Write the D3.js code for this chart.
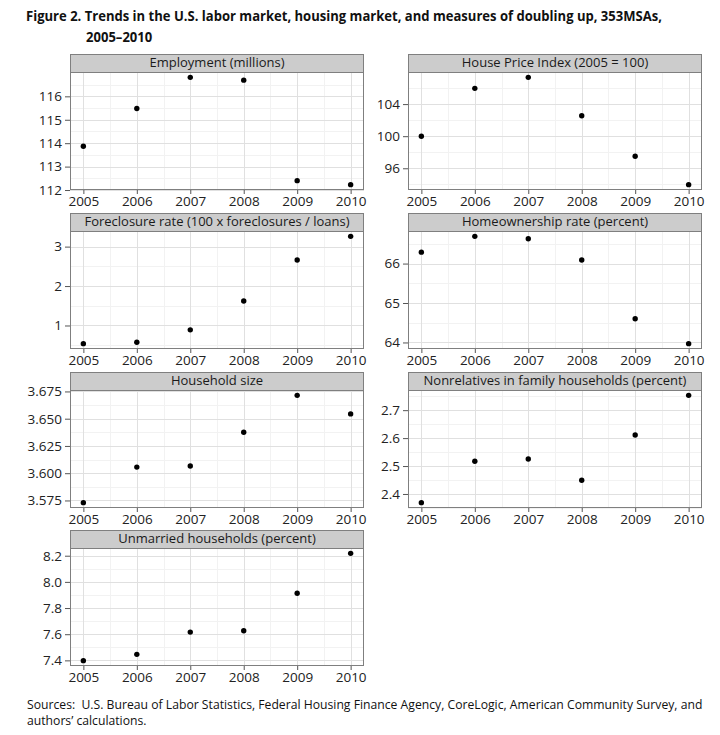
<!DOCTYPE html>
<html>
<head>
<meta charset="utf-8">
<script src="https://cdn.jsdelivr.net/npm/d3@7"></script>
<style>
  html, body { margin: 0; padding: 0; background: #fff; }
  svg { display: block; }
</style>
</head>
<body>
<script>
// ---------------- data ----------------
const years = [2005, 2006, 2007, 2008, 2009, 2010];

const employment     = [113.87, 115.48, 116.81, 116.69, 112.40, 112.23];
const housePrice     = [100.0, 105.96, 107.33, 102.54, 97.5, 93.96];
const foreclosure    = [0.54, 0.575, 0.89, 1.62, 2.66, 3.26];
const homeownership  = [66.29, 66.69, 66.63, 66.09, 64.60, 63.97];
const householdSize  = [3.573, 3.6056, 3.6066, 3.6375, 3.6714, 3.6544];
const nonrelatives   = [2.369, 2.517, 2.525, 2.449, 2.611, 2.753];
const unmarried      = [7.398, 7.446, 7.616, 7.626, 7.913, 8.218];

const employmentTicks    = [112, 113, 114, 115, 116];
const housePriceTicks    = [96, 100, 104];
const foreclosureTicks   = [1, 2, 3];
const homeownershipTicks = [64, 65, 66];
const householdSizeTicks = [3.575, 3.600, 3.625, 3.650, 3.675];
const nonrelativesTicks  = [2.4, 2.5, 2.6, 2.7];
const unmarriedTicks     = [7.4, 7.6, 7.8, 8.0, 8.2];

const panelTitles = [
  "Employment (millions)",
  "House Price Index (2005 = 100)",
  "Foreclosure rate (100 x foreclosures / loans)",
  "Homeownership rate (percent)",
  "Household size",
  "Nonrelatives in family households (percent)",
  "Unmarried households (percent)"
];

const titleLines = [
  "Figure 2. Trends in the U.S. labor market, housing market, and measures of doubling up, 353MSAs,",
  "2005\u20132010"
];
const sourceLines = [
  "Sources:\u00a0 U.S. Bureau of Labor Statistics, Federal Housing Finance Agency, CoreLogic, American Community Survey, and",
  "authors\u2019 calculations."
];

// ---------------- layout ----------------
const W = 720, H = 735;
const colX = [70, 408];
const rowTop = [54, 213, 372, 530];
const panelW = 294, stripH = 18, plotH = 118;
const FONT = "'Open Sans', 'Noto Sans', sans-serif";

const panels = [
  { values: employment,    ticks: employmentTicks,    fmt: d3.format("d") },
  { values: housePrice,    ticks: housePriceTicks,    fmt: d3.format("d") },
  { values: foreclosure,   ticks: foreclosureTicks,   fmt: d3.format("d") },
  { values: homeownership, ticks: homeownershipTicks, fmt: d3.format("d") },
  { values: householdSize, ticks: householdSizeTicks, fmt: d3.format(".3f") },
  { values: nonrelatives,  ticks: nonrelativesTicks,  fmt: d3.format(".1f") },
  { values: unmarried,     ticks: unmarriedTicks,     fmt: d3.format(".1f") }
].map((p, i) => Object.assign(p, { title: panelTitles[i] }));

const svg = d3.select("body").append("svg")
  .attr("width", W).attr("height", H)
  .attr("viewBox", `0 0 ${W} ${H}`);

svg.append("rect").attr("width", W).attr("height", H).attr("fill", "#fff");

// Horizontally condensed text block: first line is fitted to a target width,
// the rest use the same horizontal scale.
function condensedLines(g, lines, positions, firstWidth) {
  const nodes = lines.map((t, k) => g.append("text").attr("x", 0).attr("y", 0).text(t));
  const natural = nodes[0].node().getComputedTextLength();
  const sx = Math.min(1, firstWidth / natural);
  nodes.forEach((n, k) => n.attr("transform",
    `translate(${positions[k][0]},${positions[k][1]}) scale(${sx},1)`));
}

// ---------------- title ----------------
const titleG = svg.append("g")
  .attr("font-family", "'Open Sans', 'Noto Sans', sans-serif")
  .attr("font-weight", "bold").attr("font-size", 15).attr("fill", "#111");
condensedLines(titleG, titleLines, [[26, 21], [86, 42]], 637);

// ---------------- panels ----------------
panels.forEach((p, i) => {
  const col = i % 2, row = Math.floor(i / 2);
  const x0 = colX[col];
  const sTop = rowTop[row];
  const pTop = sTop + stripH;
  const pBot = pTop + plotH;

  const x = d3.scaleLinear()
    .domain([years[0] - 0.25, years[years.length - 1] + 0.25])
    .range([x0, x0 + panelW]);
  const [mn, mx] = d3.extent(p.values);
  const pad = (mx - mn) * 0.05;
  const y = d3.scaleLinear().domain([mn - pad, mx + pad]).range([pBot, pTop]);

  const g = svg.append("g");

  g.append("rect").attr("x", x0).attr("y", pTop).attr("width", panelW).attr("height", plotH)
    .attr("fill", "#fff");

  // minor gridlines
  const xMinor = years.slice(0, -1).map(d => d + 0.5);
  const step = p.ticks[1] - p.ticks[0];
  const yMinorAll = [p.ticks[0] - step / 2].concat(p.ticks.map(t => t + step / 2));
  const [d0, d1] = y.domain();
  const yMinor = yMinorAll.filter(v => v > d0 && v < d1);

  g.selectAll(".xminor").data(xMinor).join("line")
    .attr("x1", d => Math.round(x(d)) + 0.5).attr("x2", d => Math.round(x(d)) + 0.5)
    .attr("y1", pTop).attr("y2", pBot)
    .attr("stroke", "#f2f2f2").attr("stroke-width", 1);
  g.selectAll(".yminor").data(yMinor).join("line")
    .attr("x1", x0).attr("x2", x0 + panelW)
    .attr("y1", d => Math.round(y(d)) + 0.5).attr("y2", d => Math.round(y(d)) + 0.5)
    .attr("stroke", "#f2f2f2").attr("stroke-width", 1);

  // major gridlines
  g.selectAll(".xmajor").data(years).join("line")
    .attr("x1", d => Math.round(x(d)) + 0.5).attr("x2", d => Math.round(x(d)) + 0.5)
    .attr("y1", pTop).attr("y2", pBot)
    .attr("stroke", "#e0e0e0").attr("stroke-width", 1);
  g.selectAll(".ymajor").data(p.ticks).join("line")
    .attr("x1", x0).attr("x2", x0 + panelW)
    .attr("y1", d => Math.round(y(d)) + 0.5).attr("y2", d => Math.round(y(d)) + 0.5)
    .attr("stroke", "#e0e0e0").attr("stroke-width", 1);

  // points
  g.selectAll(".pt").data(years.map((yr, k) => [yr, p.values[k]])).join("circle")
    .attr("cx", d => x(d[0])).attr("cy", d => y(d[1])).attr("r", 2.7)
    .attr("fill", "#000");

  // panel border
  g.append("rect").attr("x", x0 + 0.5).attr("y", pTop + 0.5)
    .attr("width", panelW - 1).attr("height", plotH - 1)
    .attr("fill", "none").attr("stroke", "#7f7f7f").attr("stroke-width", 1);

  // strip
  g.append("rect").attr("x", x0 + 0.5).attr("y", sTop + 0.5)
    .attr("width", panelW - 1).attr("height", stripH)
    .attr("fill", "#cccccc").attr("stroke", "#7f7f7f").attr("stroke-width", 1);
  g.append("text")
    .attr("x", x0 + panelW / 2).attr("y", sTop + stripH / 2 + 1)
    .attr("text-anchor", "middle").attr("dominant-baseline", "middle")
    .attr("font-family", FONT).attr("font-size", 13).attr("fill", "#1a1a1a")
    .text(p.title);

  // axes
  const xAxis = d3.axisBottom(x).tickValues(years).tickFormat(d3.format("d"))
    .tickSize(4).tickPadding(2);
  const gx = g.append("g").attr("transform", `translate(0,${pBot})`).call(xAxis);
  const yAxis = d3.axisLeft(y).tickValues(p.ticks).tickFormat(p.fmt)
    .tickSize(5).tickPadding(3);
  const gy = g.append("g").attr("transform", `translate(${x0},0)`).call(yAxis);

  [gx, gy].forEach(a => {
    a.select(".domain").remove();
    a.selectAll(".tick line").attr("stroke", "#555");
    a.selectAll(".tick text").attr("font-family", FONT).attr("font-size", 13.5)
      .attr("fill", "#222");
  });
});

// ---------------- sources ----------------
const srcG = svg.append("g").attr("font-family", FONT).attr("font-size", 13)
  .attr("fill", "#111");
condensedLines(srcG, sourceLines, [[27, 709], [27, 725]], 676);
</script>
</body>
</html>
